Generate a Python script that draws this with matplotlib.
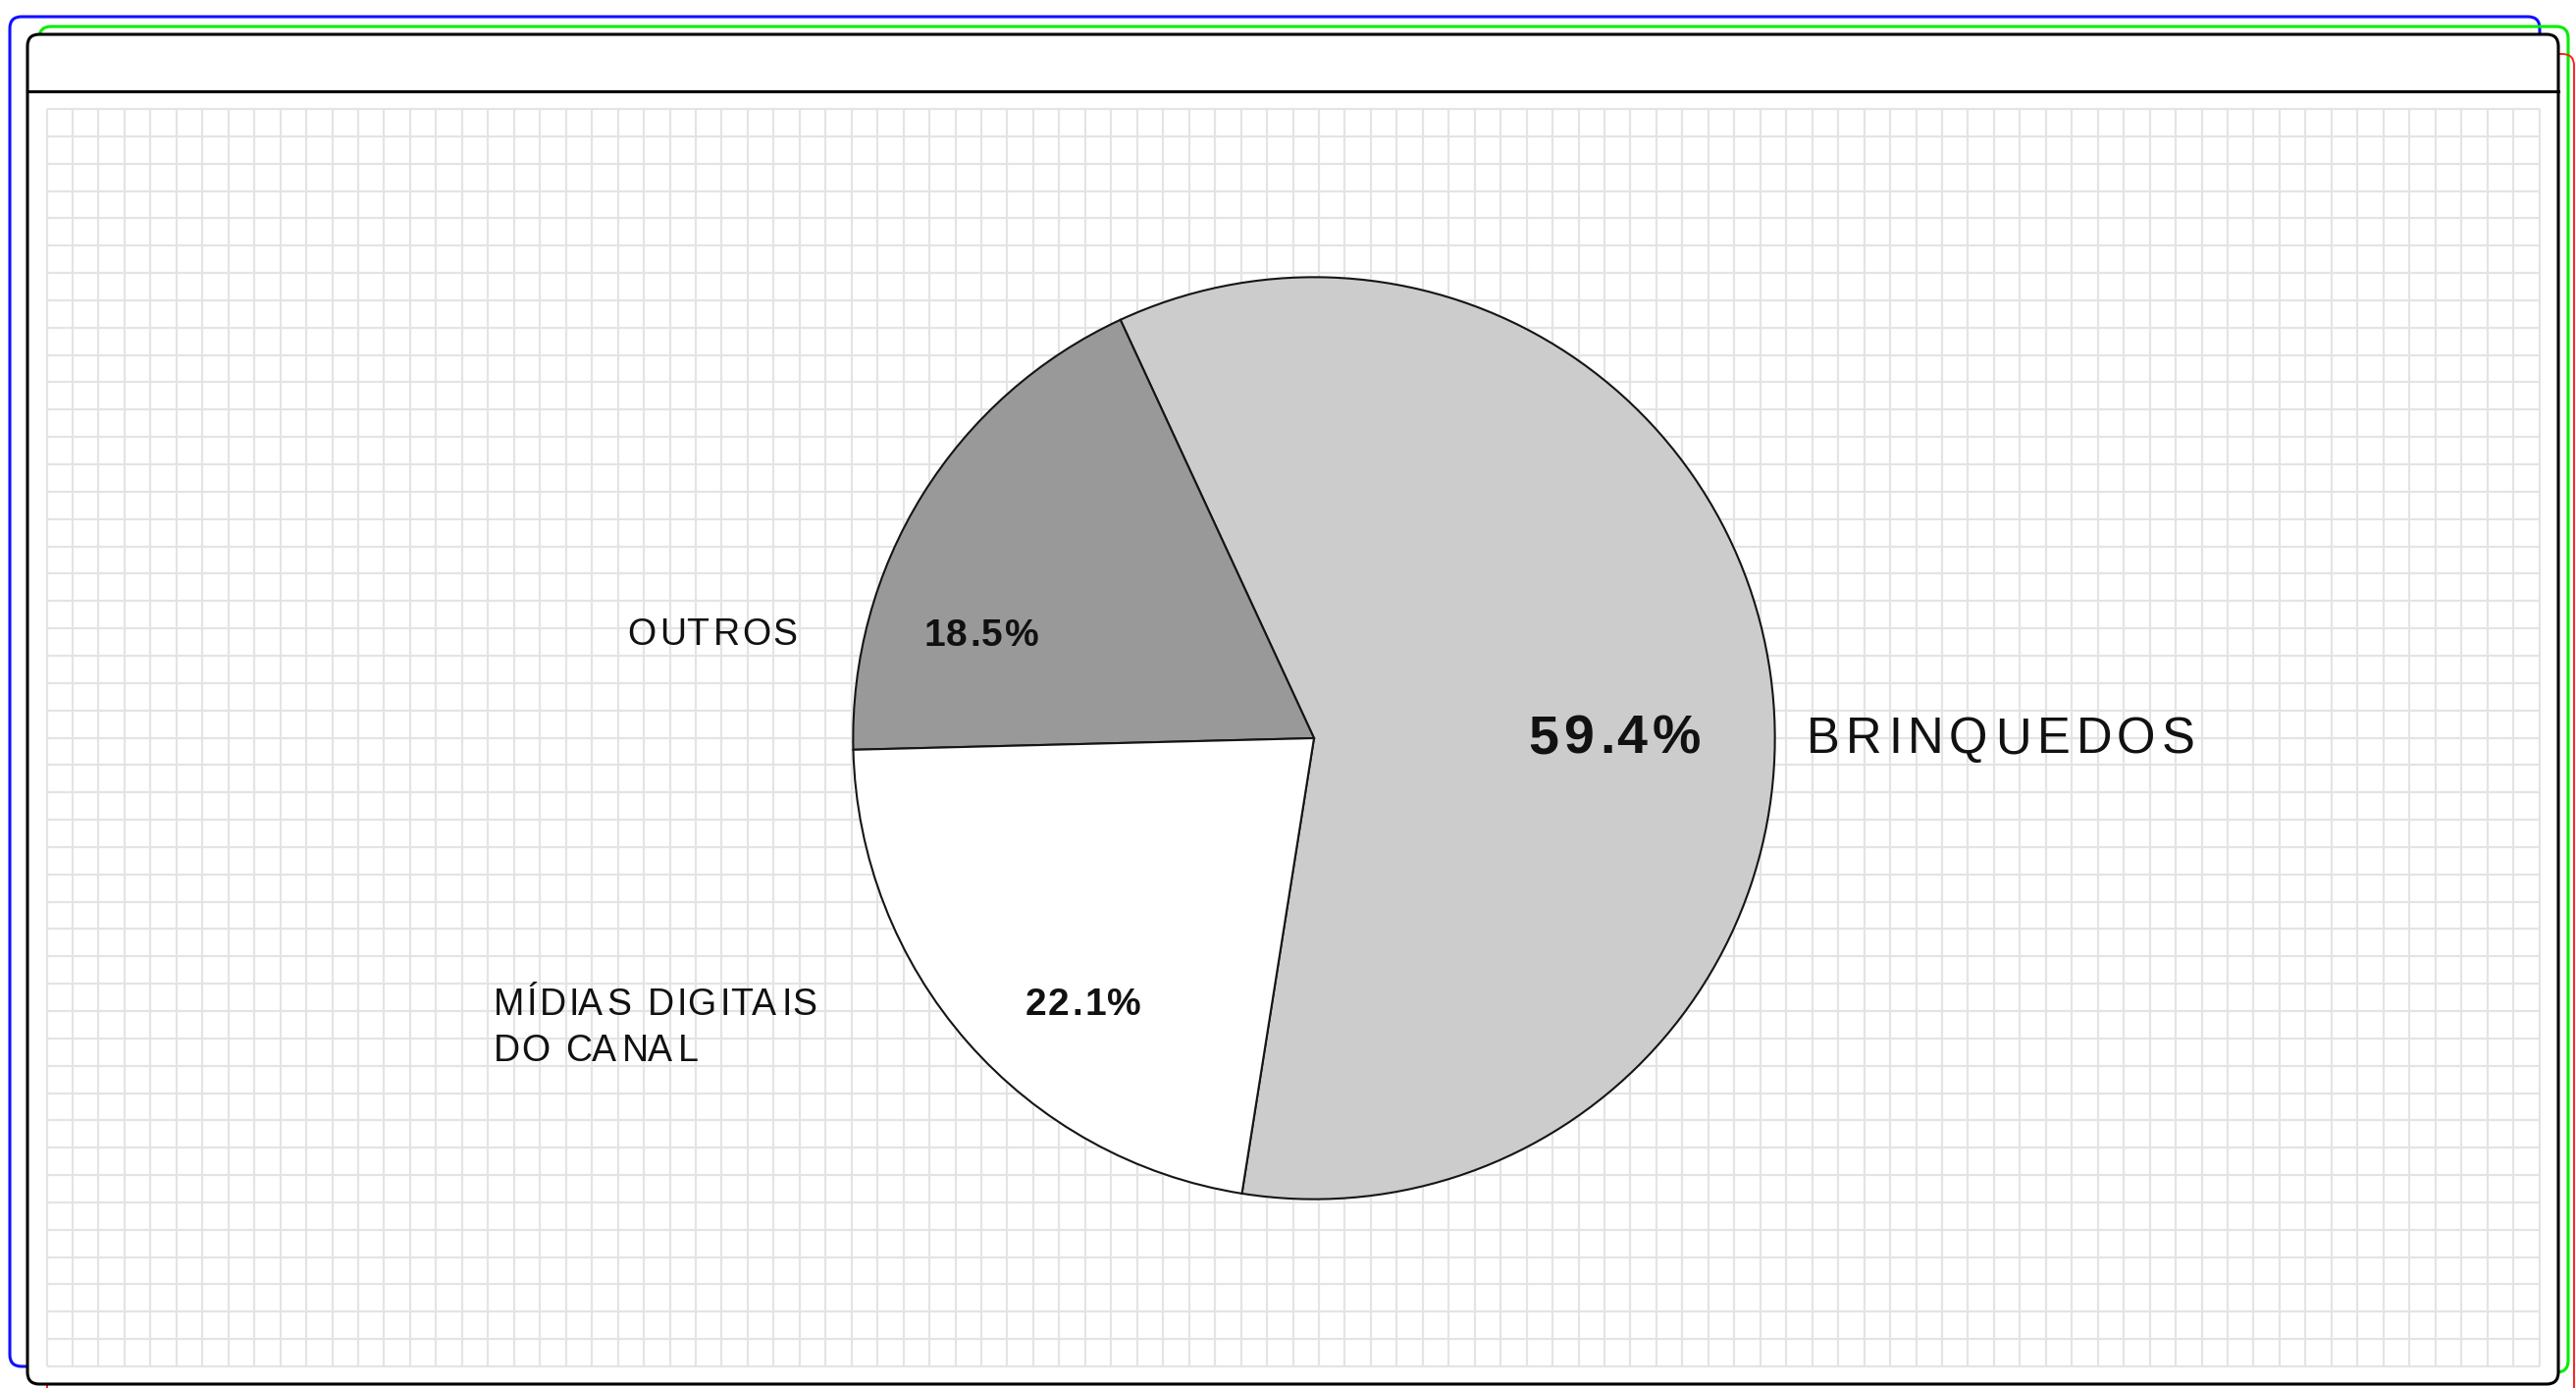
import numpy as np
import matplotlib
matplotlib.use('Agg')
import matplotlib.pyplot as plt
from matplotlib.patches import FancyBboxPatch
from matplotlib.font_manager import FontProperties, findfont
from matplotlib.ft2font import FT2Font

try:
    from matplotlib.ft2font import LoadFlags, Kerning
    NO_HINT = LoadFlags.NO_HINTING
    KERN = Kerning.DEFAULT
except ImportError:
    from matplotlib.ft2font import LOAD_NO_HINTING as NO_HINT, KERNING_DEFAULT as KERN

# data
categories = ['BRINQUEDOS', 'OUTROS', 'MÍDIAS DIGITAIS\nDO CANAL']
shares = [59.4, 18.5, 22.1]
slice_colors = ['#cccccc', '#999999', '#ffffff']

W, H = 2625, 1414
DPI = 100
FAMILY = 'Liberation Sans'


def spaced_text(ax, x, y, s, size, weight='normal', track=0.0, color='#111111'):
    # draw text char by char so we get letter spacing (with kerning)
    fp = FontProperties(family=FAMILY, weight=weight, size=size)
    font = FT2Font(findfont(fp))
    font.set_size(size, DPI)
    pen = x
    last = None
    for ch in s:
        gi = font.get_char_index(ord(ch))
        if last is not None:
            pen += font.get_kerning(last, gi, KERN) / 64
        g = font.load_char(ord(ch), flags=NO_HINT)
        if ch != ' ':
            ax.text(pen + g.horiBearingX / 64, y, ch, fontproperties=fp,
                    ha='left', va='baseline', color=color, zorder=10)
        pen += g.linearHoriAdvance / 65536 + track
        last = gi


fig = plt.figure(figsize=(W / DPI, H / DPI), dpi=DPI)
bg = fig.add_axes([0, 0, 1, 1])
bg.set_xlim(0, W)
bg.set_ylim(H, 0)
bg.axis('off')

# offset frames behind the card
def frame(x0, y0, x1, y1, ec, lw, fc='none', z=1):
    bg.add_patch(FancyBboxPatch((x0, y0), x1 - x0, y1 - y0,
                                boxstyle='round,pad=0,rounding_size=12',
                                ec=ec, fc=fc, lw=lw, zorder=z))

frame(10, 17, 2588, 1392, '#1010ff', 2.2, z=1)
frame(40, 27, 2617, 1398, '#00ee00', 2.2, z=2)
frame(48, 55, 2623, 1440, '#ff2020', 1.4, z=3)
frame(28, 35, 2607, 1410, '#000000', 2.2, fc='white', z=4)
bg.plot([28, 2607], [93, 93], color='black', lw=2.2, zorder=5)

# background grid
gx = np.linspace(47.5, 2587.5, 97)
gy = np.linspace(111, 1392, 47)
bg.vlines(gx, 111, 1392, color='#e4e4e4', lw=1.6, zorder=5)
bg.hlines(gy, 47.5, 2587.5, color='#e4e4e4', lw=1.6, zorder=5)

# pie
cx, cy, r = 1339, 752, 472
pax = fig.add_axes([(cx - r) / W, (H - cy - r) / H, 2 * r / W, 2 * r / H])
pax.pie(shares, colors=slice_colors, startangle=-99, counterclock=True,
        radius=1, wedgeprops=dict(edgecolor='#151515', linewidth=1.5))
pax.set_xlim(-1.005, 1.005)
pax.set_ylim(-1.005, 1.005)
pax.set_aspect('equal')
pax.axis('off')

# labels (drawn on an overlay so they sit above the pie)
ov = fig.add_axes([0, 0, 1, 1])
ov.set_xlim(0, W)
ov.set_ylim(H, 0)
ov.axis('off')
ov.patch.set_alpha(0)

pct = [f'{v:.1f}%' for v in shares]

spaced_text(ov, 1556, 767, pct[0], 40, weight='bold', track=4.5)
spaced_text(ov, 1837, 767, categories[0], 36.5, track=6.2)

spaced_text(ov, 939, 658, pct[1], 28, weight='bold', track=2)
spaced_text(ov, 637, 657, categories[1], 27, track=2.7)

spaced_text(ov, 1043, 1034, pct[2], 28, weight='bold', track=2)
for i, line in enumerate(categories[2].split('\n')):
    spaced_text(ov, 500, 1034 + 47 * i, line, 27, track=2.4)

fig.savefig('out.png', dpi=DPI)
